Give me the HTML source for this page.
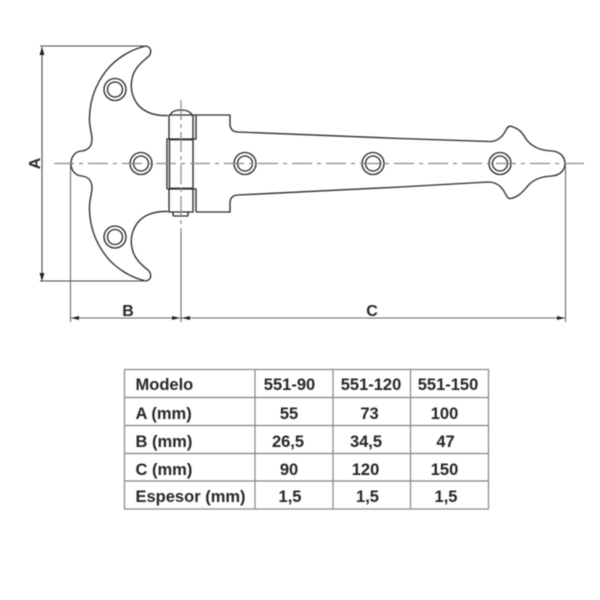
<!DOCTYPE html>
<html>
<head>
<meta charset="utf-8">
<style>
html,body{margin:0;padding:0;background:#fff;width:600px;height:600px;overflow:hidden}
svg{display:block;filter:blur(0.45px)}
text{font-family:"Liberation Sans",sans-serif;font-weight:bold;fill:#262626}
</style>
</head>
<body>
<svg width="600" height="600" viewBox="0 0 600 600" xmlns="http://www.w3.org/2000/svg">
<rect width="600" height="600" fill="#fff"/>
<!-- hinge outline -->
<g fill="none" stroke="#2a2a2a" stroke-width="1.35">
<path d="M168 115.500C155 116 146 113 139 106C132 98 130 88 132 79C134 68 142 62 149 56C152 52 151 47 146 46C132 49 116 58 106 71C96 84 90 100 89.500 117C89 127 92 133 92 139C92 147 88 150 82 151C76 151 71 156 71 163.500C71 171 76 176 82 176C88 177 92 180 92 188C92 194 89 200 89.500 210C90 227 96 243 106 256C116 269 132 278 146 281C151 280 152 275 149 271C142 265 134 259 132 248C130 239 132 229 139 221C146 214 155 211 168 211.500"/>
<path d="M196 115H230V124C230 129 233 132 238 132L400 138.500L490 141.500C498 141.500 503 136 506 130C508 126 510 125.500 513 127C519 129 522 132 526 139C532 147 540 150.500 552 151C560 151.500 565 157 565 163.500C565 170 560 175.500 552 176C540 176.500 532 180 526 188C521 194 517 197 511 198.500C508 199 507 197 505 193C502 187 497 182 488 182L400 187L238 195C233 195 230 198 230 203V212H196"/>
<!-- knuckles -->
<path d="M169 115V139M193 115V139M169 115H193M193 115H196V139H193" />
<path d="M170 115C172 111 177 110 181 110C185 110 190 111 192 115"/>
<path d="M167 189V139H193V189M169.500 139V189" />
<path d="M169 139.500H193M169 188.500H193" stroke-width="1.8"/>
<path d="M167 189H193M169 189V212H193V189M193 189H196V212"/>
<path d="M173 212.500V215C173 216 174 216 175 216H187C188 216 188 216 188 215V212.500"/>
<!-- holes -->
<g>
<circle cx="115" cy="89.500" r="11"/><circle cx="115" cy="89.500" r="7.500"/>
<circle cx="141" cy="163.500" r="11"/><circle cx="141" cy="163.500" r="7.500"/>
<circle cx="115" cy="237" r="11"/><circle cx="115" cy="237" r="7.500"/>
<circle cx="245" cy="163.500" r="11"/><circle cx="245" cy="163.500" r="7.500"/>
<circle cx="373" cy="163.500" r="11"/><circle cx="373" cy="163.500" r="7.500"/>
<circle cx="500" cy="163.500" r="11"/><circle cx="500" cy="163.500" r="7.500"/>
</g>
</g>
<!-- centre lines -->
<g fill="none" stroke="#8a8a8a" stroke-width="1.2">
<path d="M54 163.500H584" stroke-dasharray="20 5 4 5"/>
<path d="M181 100V232" stroke-dasharray="20 4 4 4"/>
</g>
<!-- dimension lines -->
<g fill="none" stroke="#4a4a4a" stroke-width="1.1">
<path d="M40 46H146M40 281H146M42 47V281"/>
</g>
<g fill="none" stroke="#6a6a6a" stroke-width="1.1">
<path d="M70.500 164V322M181 232V322M565.500 164V322M70 318H565"/>
</g>
<g fill="#222">
<path d="M42 47L39.500 55H44.500Z"/>
<path d="M42 281L39.500 273H44.500Z"/>
<path d="M71 318L79 316V320Z"/>
<path d="M180 318L172 316V320Z"/>
<path d="M182 318L190 316V320Z"/>
<path d="M565 318L557 316V320Z"/>
</g>
<text x="40" y="163.500" font-size="16" text-anchor="middle" transform="rotate(-90 40 163.500)">A</text>
<text x="128" y="316" font-size="16" text-anchor="middle">B</text>
<text x="372" y="316" font-size="16" text-anchor="middle">C</text>
<!-- table -->
<g fill="none" stroke="#858585" stroke-width="1.2">
<rect x="124.500" y="369.500" width="364" height="139.500"/>
<path d="M124 397.500H489M124 425.500H489M124 453.500H489M124 481H489M255 369V509M333 369V509M410.500 369V509"/>
</g>
<g font-size="16.500">
<text x="135.500" y="390">Modelo</text>
<text x="135.500" y="419">A (mm)</text>
<text x="135.500" y="447">B (mm)</text>
<text x="135.500" y="475">C (mm)</text>
<text x="135.500" y="502">Espesor (mm)</text>
</g>
<g font-size="16.500" text-anchor="middle">
<text x="289.500" y="390">551-90</text>
<text x="371" y="390">551-120</text>
<text x="448" y="390">551-150</text>
<text x="289" y="419">55</text>
<text x="369.500" y="419">73</text>
<text x="444.500" y="419">100</text>
<text x="288" y="447">26,5</text>
<text x="366" y="447">34,5</text>
<text x="445.500" y="447">47</text>
<text x="289" y="475">90</text>
<text x="365.500" y="475">120</text>
<text x="444.500" y="475">150</text>
<text x="290" y="502">1,5</text>
<text x="367.500" y="502">1,5</text>
<text x="446" y="502">1,5</text>
</g>
</svg>
</body>
</html>
